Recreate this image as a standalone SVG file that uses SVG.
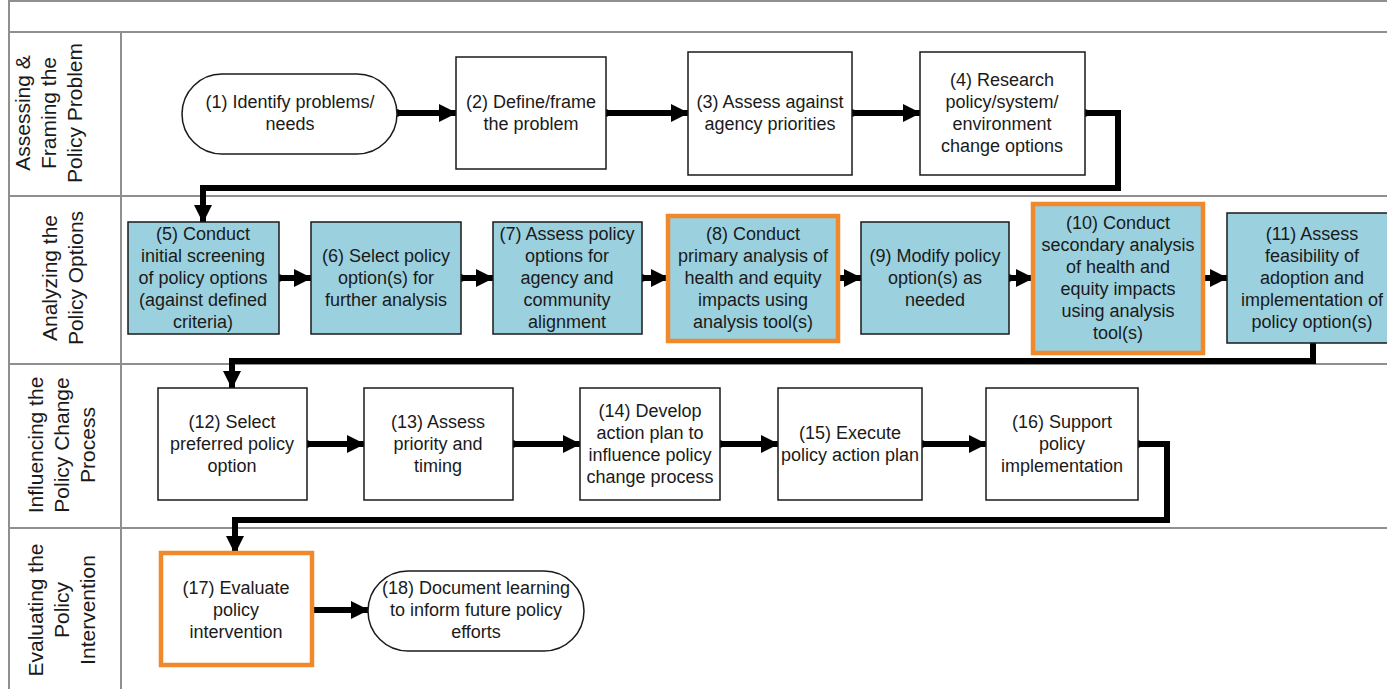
<svg xmlns="http://www.w3.org/2000/svg" width="1387" height="689" viewBox="0 0 1387 689">
  <style>
    .grid { stroke: #8f8f8f; stroke-width: 2; fill: none; }
    .lane { font-family: "Liberation Sans", Arial, sans-serif; font-size: 21px; fill: #1a1a1a; text-anchor: middle; }
    .txt { font-family: "Liberation Sans", Arial, sans-serif; font-size: 18px; fill: #1a1a1a; text-anchor: middle; }
    .plain { fill: #ffffff; stroke: #1a1a1a; stroke-width: 1.5; }
    .blue { fill: #9bd0de; stroke: #1a1a1a; stroke-width: 1.5; }
    .hl { fill: #9bd0de; stroke: #f0892c; stroke-width: 4.5; }
    .hlw { fill: #ffffff; stroke: #f0892c; stroke-width: 4.5; }
    .conn { fill: none; stroke: #000000; stroke-width: 6; stroke-linejoin: miter; }
  </style>
  <defs>
    <marker id="arrow" markerUnits="userSpaceOnUse" markerWidth="18" markerHeight="18" refX="17" refY="9" orient="auto" viewBox="0 0 18 18">
      <path d="M0,0 L18,9 L0,18 Z" fill="#000000"/>
    </marker>
    <marker id="dot" markerUnits="userSpaceOnUse" markerWidth="8" markerHeight="8" refX="4" refY="4" orient="auto" viewBox="0 0 8 8">
      <circle cx="4" cy="4" r="3.8" fill="#000000"/>
    </marker>
  </defs>

  <rect width="1387" height="689" fill="#ffffff"/>

  <!-- swimlane grid -->
  <g id="grid">
    <line class="grid" x1="9" y1="1" x2="1387" y2="1"/>
    <line class="grid" x1="9" y1="0" x2="9" y2="689"/>
    <line class="grid" x1="9" y1="32" x2="1387" y2="32"/>
    <line class="grid" x1="121" y1="32" x2="121" y2="689"/>
    <line class="grid" x1="9" y1="196" x2="1387" y2="196"/>
    <line class="grid" x1="9" y1="364" x2="1387" y2="364"/>
    <line class="grid" x1="9" y1="528" x2="1387" y2="528"/>
  </g>

  <!-- lane titles -->
  <g id="lane-titles">
    <text class="lane" transform="translate(0,113) rotate(-90)"><tspan x="0" y="30">Assessing &amp;</tspan><tspan x="0" y="56">Framing the</tspan><tspan x="0" y="82">Policy Problem</tspan></text>
    <text class="lane" transform="translate(0,278) rotate(-90)"><tspan x="0" y="57">Analyzing the</tspan><tspan x="0" y="83">Policy Options</tspan></text>
    <text class="lane" transform="translate(0,445) rotate(-90)"><tspan x="0" y="43">Influencing the</tspan><tspan x="0" y="69">Policy Change</tspan><tspan x="0" y="95">Process</tspan></text>
    <text class="lane" transform="translate(0,610) rotate(-90)"><tspan x="0" y="43">Evaluating the</tspan><tspan x="0" y="69">Policy</tspan><tspan x="0" y="95">Intervention</tspan></text>
  </g>

  <!-- connectors -->
  <g id="connectors">
    <path class="conn" d="M397,113 H456" marker-start="url(#dot)" marker-end="url(#arrow)"/>
    <path class="conn" d="M606,113 H688" marker-start="url(#dot)" marker-end="url(#arrow)"/>
    <path class="conn" d="M852,113 H920" marker-start="url(#dot)" marker-end="url(#arrow)"/>
    <path class="conn" d="M1085,113 H1118 V188 H203 V222" marker-start="url(#dot)" marker-end="url(#arrow)"/>
    <path class="conn" d="M279,278 H311" marker-start="url(#dot)" marker-end="url(#arrow)"/>
    <path class="conn" d="M461,278 H493" marker-start="url(#dot)" marker-end="url(#arrow)"/>
    <path class="conn" d="M642,278 H668" marker-start="url(#dot)" marker-end="url(#arrow)"/>
    <path class="conn" d="M838,278 H861" marker-start="url(#dot)" marker-end="url(#arrow)"/>
    <path class="conn" d="M1009,278 H1033" marker-start="url(#dot)" marker-end="url(#arrow)"/>
    <path class="conn" d="M1203,278 H1227" marker-start="url(#dot)" marker-end="url(#arrow)"/>
    <path class="conn" d="M1313,343 V361 H232 V388" marker-end="url(#arrow)"/>
    <path class="conn" d="M307,444 H364" marker-start="url(#dot)" marker-end="url(#arrow)"/>
    <path class="conn" d="M513,444 H580" marker-start="url(#dot)" marker-end="url(#arrow)"/>
    <path class="conn" d="M720,444 H778" marker-start="url(#dot)" marker-end="url(#arrow)"/>
    <path class="conn" d="M922,444 H986" marker-start="url(#dot)" marker-end="url(#arrow)"/>
    <path class="conn" d="M1138,444 H1167 V520 H235 V553" marker-start="url(#dot)" marker-end="url(#arrow)"/>
    <path class="conn" d="M312,610 H368" marker-start="url(#dot)" marker-end="url(#arrow)"/>
  </g>

  <!-- lane 1 -->
  <g id="n1">
    <rect class="plain" x="182" y="74" width="215" height="80" rx="40" ry="40"/>
    <text class="txt"><tspan x="290" y="108">(1) Identify problems/</tspan><tspan x="290" y="130">needs</tspan></text>
  </g>
  <g id="n2">
    <rect class="plain" x="456" y="57" width="150" height="112"/>
    <text class="txt"><tspan x="531" y="108">(2) Define/frame</tspan><tspan x="531" y="130">the problem</tspan></text>
  </g>
  <g id="n3">
    <rect class="plain" x="688" y="52" width="164" height="123"/>
    <text class="txt"><tspan x="770" y="108">(3) Assess against</tspan><tspan x="770" y="130">agency priorities</tspan></text>
  </g>
  <g id="n4">
    <rect class="plain" x="920" y="52" width="165" height="123"/>
    <text class="txt"><tspan x="1002" y="86">(4) Research</tspan><tspan x="1002" y="108">policy/system/</tspan><tspan x="1002" y="130">environment</tspan><tspan x="1002" y="152">change options</tspan></text>
  </g>

  <!-- lane 2 -->
  <g id="n5">
    <rect class="blue" x="128" y="222" width="151" height="112"/>
    <text class="txt"><tspan x="203" y="240">(5) Conduct</tspan><tspan x="203" y="262">initial screening</tspan><tspan x="203" y="284">of policy options</tspan><tspan x="203" y="306">(against defined</tspan><tspan x="203" y="328">criteria)</tspan></text>
  </g>
  <g id="n6">
    <rect class="blue" x="311" y="222" width="150" height="112"/>
    <text class="txt"><tspan x="386" y="262">(6) Select policy</tspan><tspan x="386" y="284">option(s) for</tspan><tspan x="386" y="306">further analysis</tspan></text>
  </g>
  <g id="n7">
    <rect class="blue" x="493" y="222" width="149" height="112"/>
    <text class="txt"><tspan x="567" y="240">(7) Assess policy</tspan><tspan x="567" y="262">options for</tspan><tspan x="567" y="284">agency and</tspan><tspan x="567" y="306">community</tspan><tspan x="567" y="328">alignment</tspan></text>
  </g>
  <g id="n8">
    <rect class="hl" x="668" y="216" width="170" height="125"/>
    <text class="txt"><tspan x="753" y="240">(8) Conduct</tspan><tspan x="753" y="262">primary analysis of</tspan><tspan x="753" y="284">health and equity</tspan><tspan x="753" y="306">impacts using</tspan><tspan x="753" y="328">analysis tool(s)</tspan></text>
  </g>
  <g id="n9">
    <rect class="blue" x="861" y="222" width="148" height="112"/>
    <text class="txt"><tspan x="935" y="262">(9) Modify policy</tspan><tspan x="935" y="284">option(s) as</tspan><tspan x="935" y="306">needed</tspan></text>
  </g>
  <g id="n10">
    <rect class="hl" x="1033" y="204" width="170" height="149"/>
    <text class="txt"><tspan x="1118" y="229">(10) Conduct</tspan><tspan x="1118" y="251">secondary analysis</tspan><tspan x="1118" y="273">of health and</tspan><tspan x="1118" y="295">equity impacts</tspan><tspan x="1118" y="317">using analysis</tspan><tspan x="1118" y="339">tool(s)</tspan></text>
  </g>
  <g id="n11">
    <rect class="blue" x="1227" y="213" width="172" height="130"/>
    <text class="txt"><tspan x="1312" y="240">(11) Assess</tspan><tspan x="1312" y="262">feasibility of</tspan><tspan x="1312" y="284">adoption and</tspan><tspan x="1312" y="306">implementation of</tspan><tspan x="1312" y="328">policy option(s)</tspan></text>
  </g>

  <!-- lane 3 -->
  <g id="n12">
    <rect class="plain" x="158" y="388" width="149" height="112"/>
    <text class="txt"><tspan x="232" y="428">(12) Select</tspan><tspan x="232" y="450">preferred policy</tspan><tspan x="232" y="472">option</tspan></text>
  </g>
  <g id="n13">
    <rect class="plain" x="364" y="388" width="149" height="112"/>
    <text class="txt"><tspan x="438" y="428">(13) Assess</tspan><tspan x="438" y="450">priority and</tspan><tspan x="438" y="472">timing</tspan></text>
  </g>
  <g id="n14">
    <rect class="plain" x="580" y="388" width="140" height="112"/>
    <text class="txt"><tspan x="650" y="417">(14) Develop</tspan><tspan x="650" y="439">action plan to</tspan><tspan x="650" y="461">influence policy</tspan><tspan x="650" y="483">change process</tspan></text>
  </g>
  <g id="n15">
    <rect class="plain" x="778" y="388" width="144" height="112"/>
    <text class="txt"><tspan x="850" y="439">(15) Execute</tspan><tspan x="850" y="461">policy action plan</tspan></text>
  </g>
  <g id="n16">
    <rect class="plain" x="986" y="388" width="152" height="112"/>
    <text class="txt"><tspan x="1062" y="428">(16) Support</tspan><tspan x="1062" y="450">policy</tspan><tspan x="1062" y="472">implementation</tspan></text>
  </g>

  <!-- lane 4 -->
  <g id="n17">
    <rect class="hlw" x="161" y="553" width="151" height="112"/>
    <text class="txt"><tspan x="236" y="594">(17) Evaluate</tspan><tspan x="236" y="616">policy</tspan><tspan x="236" y="638">intervention</tspan></text>
  </g>
  <g id="n18">
    <rect class="plain" x="368" y="571" width="216" height="80" rx="40" ry="40"/>
    <text class="txt"><tspan x="476" y="594">(18) Document learning</tspan><tspan x="476" y="616">to inform future policy</tspan><tspan x="476" y="638">efforts</tspan></text>
  </g>
</svg>
